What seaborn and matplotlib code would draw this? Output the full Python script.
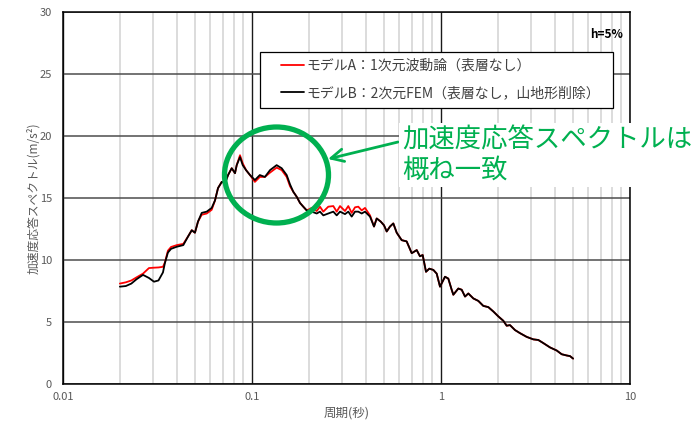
import numpy as np
import pandas as pd
import matplotlib
matplotlib.use("Agg")
import matplotlib.pyplot as plt
from matplotlib.patches import Ellipse, Rectangle
from matplotlib.lines import Line2D
import seaborn as sns

# Periods (s) shared by both spectra
period = [
    0.020, 0.0215, 0.023, 0.0245, 0.0265, 0.0285, 0.0303, 0.032, 0.0338, 0.0346,
    0.0359, 0.0373, 0.040, 0.0433, 0.0459, 0.048, 0.0499, 0.0518, 0.0542, 0.0576,
    0.0612, 0.0637, 0.0661, 0.0692, 0.072, 0.0747, 0.0781, 0.0813, 0.083, 0.0864,
    0.0893, 0.093, 0.0976, 0.1036, 0.110, 0.117, 0.1246, 0.135, 0.1436, 0.1526,
    0.1589, 0.1654, 0.1724, 0.1795, 0.1868, 0.1947, 0.207, 0.220, 0.2289, 0.2384,
    0.2533, 0.2693, 0.2806, 0.2922, 0.3105, 0.3232, 0.3369, 0.3508, 0.3651, 0.3806,
    0.3962, 0.4211, 0.4421, 0.4569, 0.4797, 0.4993, 0.5161, 0.5373, 0.5593, 0.583,
    0.6195, 0.658, 0.700, 0.744, 0.774, 0.800, 0.833, 0.867, 0.911, 0.949,
    0.988, 1.05, 1.093, 1.139, 1.162, 1.235, 1.287, 1.34, 1.395, 1.483,
    1.576, 1.674, 1.78, 1.891, 2.011, 2.136, 2.226, 2.317, 2.463, 2.618,
    2.84, 3.078, 3.272, 3.478, 3.774, 4.095, 4.351, 4.624, 4.814, 5.0,
]

# Model A: 1D wave theory (no surface layer), m/s^2
sa_model_a = [
    8.10, 8.20, 8.35, 8.60, 8.90, 9.35, 9.38, 9.40, 9.45, 9.80,
    10.75, 11.05, 11.20, 11.30, 11.90, 12.40, 12.20, 13.10, 13.65, 13.75,
    14.05, 14.80, 15.80, 16.30, 16.20, 16.85, 17.40, 17.00, 17.65, 18.45,
    17.80, 17.25, 16.85, 16.30, 16.70, 16.70, 17.05, 17.45, 17.25, 16.70,
    15.95, 15.50, 15.10, 14.60, 14.30, 14.00, 14.20, 13.95, 14.30, 13.90,
    14.30, 14.35, 13.90, 14.35, 13.95, 14.35, 13.80, 14.25, 14.30, 14.00,
    14.20, 13.60, 12.70, 13.35, 13.10, 12.80, 12.30, 12.70, 12.95, 12.20,
    11.60, 11.50, 10.55, 10.80, 10.30, 10.40, 9.05, 9.30, 9.20, 8.90,
    7.85, 8.65, 8.50, 7.60, 7.20, 7.70, 7.60, 7.05, 7.30, 6.90,
    6.70, 6.30, 6.20, 5.85, 5.45, 5.10, 4.70, 4.75, 4.35, 4.10,
    3.80, 3.60, 3.55, 3.30, 2.95, 2.70, 2.40, 2.30, 2.25, 2.05,
]

# Model B: 2D FEM (no surface layer, topography removed), m/s^2
sa_model_b = [
    7.85, 7.90, 8.10, 8.45, 8.80, 8.55, 8.25, 8.35, 9.00, 9.75,
    10.60, 10.90, 11.07, 11.20, 11.90, 12.40, 12.20, 13.10, 13.80, 13.90,
    14.20, 14.80, 15.80, 16.30, 16.20, 16.85, 17.40, 17.00, 17.65, 18.30,
    17.65, 17.25, 16.85, 16.45, 16.85, 16.70, 17.25, 17.65, 17.40, 16.85,
    16.10, 15.50, 15.10, 14.60, 14.30, 14.00, 13.90, 13.75, 13.90, 13.60,
    13.75, 13.90, 13.60, 13.90, 13.70, 13.90, 13.50, 13.90, 13.90, 13.75,
    13.90, 13.50, 12.70, 13.35, 13.10, 12.80, 12.30, 12.70, 12.95, 12.20,
    11.60, 11.50, 10.55, 10.80, 10.30, 10.40, 9.05, 9.30, 9.20, 8.90,
    7.85, 8.65, 8.50, 7.60, 7.20, 7.70, 7.60, 7.05, 7.30, 6.90,
    6.70, 6.30, 6.20, 5.85, 5.45, 5.10, 4.70, 4.75, 4.35, 4.10,
    3.80, 3.60, 3.55, 3.30, 2.95, 2.70, 2.40, 2.30, 2.25, 2.05,
]

label_a = "モデルA：1次元波動論（表層なし）"
label_b = "モデルB：2次元FEM（表層なし，山地形削除）"
series_colors = {label_a: "#FF0000", label_b: "#000000"}

y_ticks = [0, 5, 10, 15, 20, 25, 30]
x_ticks = [0.01, 0.1, 1, 10]
x_tick_labels = ["0.01", "0.1", "1", "10"]

df = pd.concat([
    pd.DataFrame({"period": period, "sa": sa_model_a, "model": label_a}),
    pd.DataFrame({"period": period, "sa": sa_model_b, "model": label_b}),
], ignore_index=True)

sns.set_style("white")
plt.rcParams["font.family"] = ["Noto Sans CJK JP", "DejaVu Sans"]

W, H = 698, 421
fig = plt.figure(figsize=(W / 100, H / 100), dpi=100)
ax = fig.add_axes([63 / W, (H - 384) / H, 567 / W, 372 / H])

sns.lineplot(data=df, x="period", y="sa", hue="model", palette=series_colors,
             estimator=None, sort=False, legend=False, linewidth=1.3, ax=ax, zorder=3)

ax.set_xscale("log")
ax.set_xlim(0.01, 10)
ax.set_ylim(0, 30)
ax.set_yticks(y_ticks)
ax.set_xticks(x_ticks)
ax.set_xticklabels(x_tick_labels)
ax.xaxis.set_minor_locator(matplotlib.ticker.LogLocator(base=10, subs=np.arange(2, 10)))
ax.xaxis.set_minor_formatter(matplotlib.ticker.NullFormatter())

# grid
ax.grid(False)
ax.xaxis.grid(True, which="minor", color="#D9D9D9", linewidth=1.3, zorder=0)
ax.xaxis.grid(True, which="major", color="#1a1a1a", linewidth=1.0, zorder=1)
ax.yaxis.grid(True, which="major", color="#4d4d4d", linewidth=1.1, zorder=1)
ax.set_axisbelow(True)

for side in ["left", "bottom", "top", "right"]:
    ax.spines[side].set_visible(True)
    ax.spines[side].set_color("#000000")
    ax.spines[side].set_linewidth(1.1)

ax.tick_params(axis="both", which="both", length=0, labelsize=8, labelcolor="#595959")
ax.tick_params(axis="x", pad=6)
ax.tick_params(axis="y", pad=8)

ax.set_xlabel("周期(秒)", fontsize=9, color="#595959", va="center")
ax.xaxis.set_label_coords(0.5, -0.078)
ax.set_ylabel("加速度応答スペクトル(m/s²)", fontsize=8.5, color="#595959", va="center")
ax.yaxis.set_label_coords(-0.053, 0.5)

# legend: square white box with the entries placed inside it
legend_box = Rectangle((260 / W, 1 - 108 / H), 353 / W, 56 / H, transform=fig.transFigure,
                       facecolor="white", edgecolor="#000000", linewidth=0.9,
                       zorder=4, clip_on=False)
ax.add_patch(legend_box)
handles = [Line2D([], [], color=series_colors[label_a], linewidth=1.3),
           Line2D([], [], color=series_colors[label_b], linewidth=1.3)]
leg = ax.legend(handles, [label_a, label_b], loc="upper left",
                bbox_to_anchor=(281 / W, 1 - 59 / H), bbox_transform=fig.transFigure,
                fontsize=10, frameon=False, borderpad=0, labelspacing=0.95,
                handlelength=1.65, handletextpad=0.2, borderaxespad=0)
leg.set_zorder(5)
for t in leg.get_texts():
    t.set_color("#404040")

ax.text(623 / W, 1 - 35 / H, "h=5%", transform=fig.transFigure, ha="right", va="center",
        fontsize=8.5, fontweight="bold", color="#000000", zorder=6)

# highlight ring around the peak band
ring = Ellipse(((276.5 - 63) / 567, (384 - 175) / 372), 104 / 567, 96 / 372,
               transform=ax.transAxes, fill=False, edgecolor="#00B050",
               linewidth=3.8, zorder=5, clip_on=False)
ax.add_patch(ring)

green = "#00B050"
fig.text(402 / W, 1 - 155 / H, "加速度応答スペクトルは\n概ね一致", ha="left", va="center",
         fontsize=19, color=green, linespacing=1.15, zorder=10,
         bbox=dict(boxstyle="square,pad=0.12", facecolor="white", edgecolor="none"))
ax.annotate("", xy=(328, H - 159), xycoords="figure pixels",
            xytext=(398, H - 142), textcoords="figure pixels",
            arrowprops=dict(arrowstyle="->,head_length=0.9,head_width=0.45",
                            color=green, linewidth=2.0, shrinkA=0, shrinkB=0),
            zorder=9, annotation_clip=False)

fig.savefig("out.png", dpi=100, facecolor="white")
